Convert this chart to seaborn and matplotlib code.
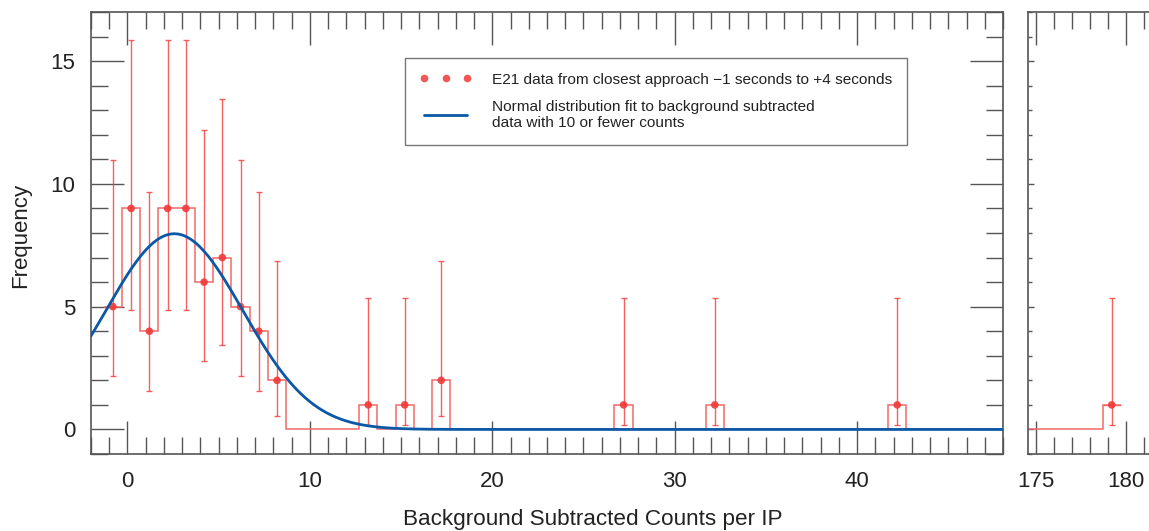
import numpy as np
import matplotlib
matplotlib.use("Agg")
import matplotlib.pyplot as plt
from matplotlib.lines import Line2D
from matplotlib.ticker import MultipleLocator
import seaborn as sns

# ---------------- data ----------------
# bin centres with non-zero frequency (main panel)
x_main = [-0.8, 0.2, 1.2, 2.2, 3.2, 4.2, 5.2, 6.2, 7.2, 8.2, 13.2, 15.2, 17.2, 27.2, 32.2, 42.2]
freq_main = [5, 9, 4, 9, 9, 6, 7, 5, 4, 2, 1, 1, 2, 1, 1, 1]
err_upper = [10.97, 15.84, 9.66, 15.84, 15.84, 12.21, 13.44, 10.97, 9.66, 6.86, 5.35, 5.35, 6.86, 5.35, 5.35, 5.35]
err_lower = [2.17, 4.88, 1.57, 4.88, 4.88, 2.79, 3.45, 2.17, 1.57, 0.56, 0.17, 0.17, 0.56, 0.17, 0.17, 0.17]

# broken-axis panel
x_far = [179.2]
freq_far = [1]
err_upper_far = [5.35]
err_lower_far = [0.17]

# normal distribution fit parameters
fit_amp = 7.97
fit_mean = 2.57
fit_sigma = 3.76

legend_data = "E21 data from closest approach \u22121 seconds to +4 seconds"
legend_fit = "Normal distribution fit to background subtracted\ndata with 10 or fewer counts"
xlabel = "Background Subtracted Counts per IP"
ylabel = "Frequency"

# ---------------- style ----------------
sns.set_theme(style="ticks")
plt.rcParams["font.family"] = ["Liberation Sans", "DejaVu Sans"]
plt.rcParams["axes.linewidth"] = 1.0

RED = "#f03a3a"
RED_LIGHT = "#f26a6a"
BLUE = "#0a58a6"
SPINE = "#555555"
TXT = "#222222"

W, H = 1149, 531
fig = plt.figure(figsize=(W / 100, H / 100), dpi=100)

def fig_rect(x0, y0, x1, y1):
    return [x0 / W, 1 - y1 / H, (x1 - x0) / W, (y1 - y0) / H]

ax = fig.add_axes(fig_rect(91, 12, 1003, 454))
ax2 = fig.add_axes(fig_rect(1028, 12, 1149, 454))

ymin, ymax = -1, 17

# ---------- main panel ----------
centers = np.arange(-0.8, 48.3, 1.0)
counts = np.zeros_like(centers)
for xv, fv in zip(x_main, freq_main):
    counts[np.argmin(np.abs(centers - xv))] = fv
edges = np.append(centers - 0.5, centers[-1] + 0.5)
ax.stairs(counts, edges, baseline=None, color=RED_LIGHT, linewidth=1.1, zorder=2)

xm = np.asarray(x_main)
fm = np.asarray(freq_main)
yerr = [fm - np.asarray(err_lower), np.asarray(err_upper) - fm]
ax.errorbar(xm, fm, yerr=yerr, fmt="none", ecolor=RED, elinewidth=1.0,
            capsize=2, capthick=1.0, alpha=0.8, zorder=3)
sns.scatterplot(x=xm, y=fm, ax=ax, color=RED, s=30, edgecolor="none",
                alpha=0.9, zorder=4, legend=False)

xf = np.linspace(-2, 48, 600)
yf = fit_amp * np.exp(-0.5 * ((xf - fit_mean) / fit_sigma) ** 2)
sns.lineplot(x=xf, y=yf, ax=ax, color=BLUE, linewidth=2.0, zorder=5, legend=False)

ax.set_xlim(-2, 48)
ax.set_ylim(ymin, ymax)

# ---------- far panel ----------
centers2 = np.arange(174.2, 179.3, 1.0)
counts2 = np.zeros_like(centers2)
for xv, fv in zip(x_far, freq_far):
    counts2[np.argmin(np.abs(centers2 - xv))] = fv
edges2 = np.append(centers2 - 0.5, centers2[-1] + 0.5)
ax2.stairs(counts2, edges2, baseline=None, color=RED_LIGHT, linewidth=1.1, zorder=2)
xf2 = np.asarray(x_far)
ff2 = np.asarray(freq_far)
ax2.errorbar(xf2, ff2, yerr=[ff2 - np.asarray(err_lower_far), np.asarray(err_upper_far) - ff2],
             fmt="none", ecolor=RED, elinewidth=1.0, capsize=2, capthick=1.0, alpha=0.8, zorder=3)
ax2.errorbar(xf2, ff2, xerr=0.5, fmt="none", ecolor=RED_LIGHT, elinewidth=1.0, zorder=3)
sns.scatterplot(x=xf2, y=ff2, ax=ax2, color=RED, s=30, edgecolor="none",
                alpha=0.9, zorder=4, legend=False)
ax2.set_xlim(174.55, 174.55 + 121 / 18.0)
ax2.set_ylim(ymin, ymax)

# ---------- ticks / spines ----------
for a in (ax, ax2):
    for s in a.spines.values():
        s.set_color(SPINE)
        s.set_linewidth(1.2)
    a.tick_params(axis="both", which="both", direction="in", colors=SPINE,
                  labelcolor=TXT, labelsize=16, width=1.0)
    a.tick_params(axis="both", which="major", length=24, pad=12)
    a.tick_params(axis="both", which="minor", length=12)

ax.xaxis.set_major_locator(MultipleLocator(10))
ax.xaxis.set_minor_locator(MultipleLocator(1))
ax.yaxis.set_major_locator(MultipleLocator(5))
ax.yaxis.set_minor_locator(MultipleLocator(1))
ax.tick_params(top=True, right=True, which="both")
ax.tick_params(axis="y", which="major", pad=11.5)

ax2.xaxis.set_major_locator(MultipleLocator(5))
ax2.xaxis.set_minor_locator(MultipleLocator(1))
ax2.yaxis.set_major_locator(MultipleLocator(5))
ax2.yaxis.set_minor_locator(MultipleLocator(1))
ax2.tick_params(axis="x", top=True, which="both")
ax2.tick_params(axis="y", which="major", length=4, labelleft=False)
ax2.tick_params(axis="y", which="minor", length=3)
ax2.spines["right"].set_visible(False)

# ---------- labels ----------
fig.text(21 / W, 1 - 235 / H, ylabel, rotation=90, ha="center", va="center",
         fontsize=16, color=TXT)
fig.text(593 / W, 1 - 525 / H, xlabel, ha="center", va="baseline", fontsize=16.2, color=TXT)

# ---------- legend ----------
h1 = Line2D([], [], linestyle="none", marker="o", markersize=5.5, color=RED,
            markeredgecolor="none", alpha=0.85)
h2 = Line2D([], [], color=BLUE, linewidth=2.0)
leg = ax.legend([h1, h2], [legend_data, legend_fit], loc="upper left",
                bbox_to_anchor=((405 - 91) / 912, (454 - 58) / 442),
                numpoints=3, fontsize=11.1, frameon=True, fancybox=False,
                handlelength=3.4, handletextpad=1.3, labelspacing=0.85,
                borderpad=0.95, borderaxespad=0)
leg.get_frame().set_edgecolor(SPINE)
leg.get_frame().set_linewidth(1.0)
for t in leg.get_texts():
    t.set_color(TXT)

fig.savefig("out.png", dpi=100)
